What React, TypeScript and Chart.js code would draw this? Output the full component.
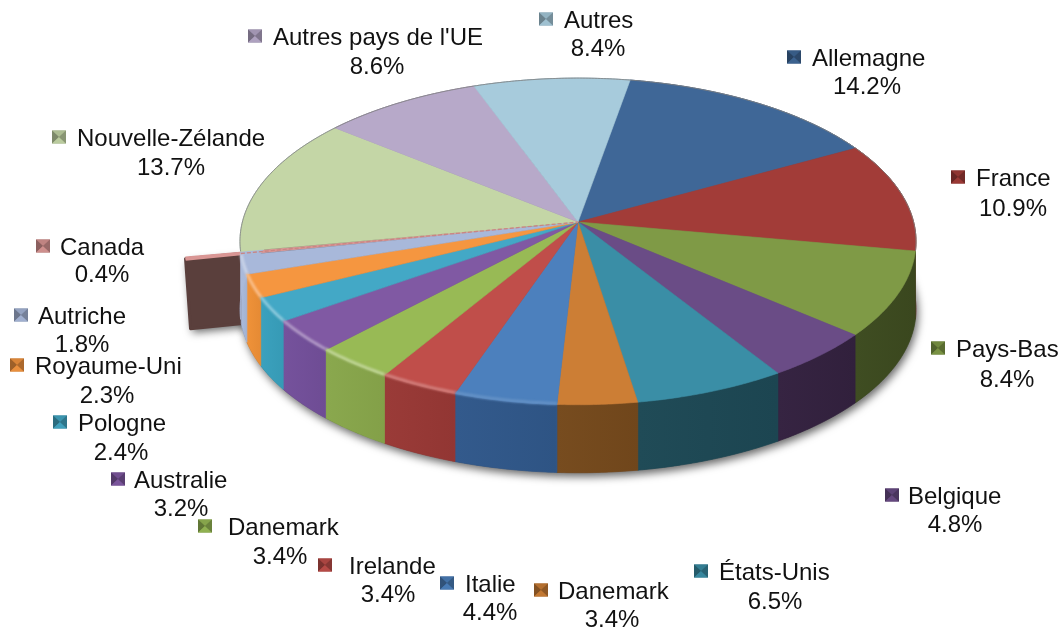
import React, { useEffect, useRef } from "react";
import { Chart, registerables } from "chart.js";

Chart.register(...registerables);

const categories = ["Allemagne","France","Pays-Bas","Belgique","États-Unis","Danemark","Italie","Irelande","Danemark","Australie","Pologne","Royaume-Uni","Autriche","Canada","Nouvelle-Zélande","Autres pays de l'UE","Autres"];
const shares = [14.2,10.9,8.4,4.8,6.5,3.4,4.4,3.4,3.4,3.2,2.4,2.3,1.8,0.4,13.7,8.6,8.4];
const topColors = ["#3f6797","#a23c38","#7f9a46","#6a4c86","#3a8ea6","#cc7e35","#4c80bd","#c04e4a","#98ba55","#8059a3","#43a8c6","#f59640","#a8b8da","#d99694","#c4d6a6","#b7a9c9","#a7cbdc"];
const wallColors = ["#27405e","#5c2220","#3c4a1f","#33213f","#1d4854","#75491c","#30578a","#983835","#88a74b","#734f9a","#38a0bd","#ef9036","#a9b9da","#5a3f3c","#a9b9da","#6e6080","#6a8a9a"];

// label layout: [marker left, marker centre y, name left, value centre x, value centre y]
const labelLayout = [
  [787,57,812,867,85],[951,177,976,1013,207],[931,348,956,1007,378],[885,495,908,955,523],
  [694,571,719,775,600],[534,590,558,612,618],[440,583,465,490,611],[318,565,349,388,593],
  [198,526,228,280,555],[111,479,134,181,507],[53,422,78,121,451],[10,365,35,107,394],
  [14,315,38,82,343],[36,246,60,102,273],[52,137,77,171,166],[248,36,273,377,65],[539,19,564,598,47],
];

const EXPLODED = 13;
const EXPLODE = 0.16;
const BX = 335.6, AY = 161, K = 0.119, DEPTH = 68;
const FONT = '24px "Liberation Sans", Arial, sans-serif';

function mix(hex: string, target: number, t: number) {
  const n = parseInt(hex.slice(1), 16);
  const c = [(n >> 16) & 255, (n >> 8) & 255, n & 255].map((v) => Math.round(v + (target - v) * t));
  return `rgb(${c[0]},${c[1]},${c[2]})`;
}

const threeD = {
  id: "threeD",
  beforeDatasetsDraw(chart: any) {
    const ctx = chart.ctx as CanvasRenderingContext2D;
    const arcs = chart.getDatasetMeta(0).data as any[];
    const cx = arcs[0].x, cy = arcs[0].y;
    const P = (u: number, v: number, d = 0, e = 0, m = 0): [number, number] => {
      const uu = u + e * Math.cos(m), vv = v + e * Math.sin(m);
      const w = 1 - K * vv;
      return [cx + (BX * uu) / w, cy + (AY * vv) / w + d];
    };
    const rim = (a0: number, a1: number, d = 0, e = 0, m = 0) => {
      const pts: [number, number][] = [];
      const n = Math.max(2, Math.ceil((a1 - a0) / 0.01));
      for (let i = 0; i <= n; i++) {
        const a = a0 + ((a1 - a0) * i) / n;
        pts.push(P(Math.cos(a), Math.sin(a), d, e, m));
      }
      return pts;
    };
    const poly = (pts: [number, number][]) => {
      ctx.beginPath();
      pts.forEach((p, i) => (i ? ctx.lineTo(p[0], p[1]) : ctx.moveTo(p[0], p[1])));
      ctx.closePath();
    };

    ctx.save();
    // drop shadow under the whole solid
    ctx.save();
    ctx.shadowColor = "rgba(0,0,0,0.6)";
    ctx.shadowBlur = 9;
    ctx.shadowOffsetX = 2;
    ctx.shadowOffsetY = 4;
    ctx.fillStyle = "#555";
    poly(rim(0, Math.PI * 2, DEPTH));
    ctx.fill();
    const ex = arcs[EXPLODED];
    const em = (ex.startAngle + ex.endAngle) / 2;
    const eOuter = P(Math.cos(em), Math.sin(em), 0, EXPLODE, em);
    const eInner = P(0, 0, 0, EXPLODE, em);
    const wallExploded: [number, number][] = [eOuter, eInner, [eInner[0], eInner[1] + DEPTH], [eOuter[0] + 5, eOuter[1] + DEPTH + 2]];
    poly(wallExploded);
    ctx.fill();
    ctx.restore();

    // exploded slice
    ctx.lineJoin = "round";
    ctx.fillStyle = wallColors[EXPLODED];
    ctx.strokeStyle = wallColors[EXPLODED];
    ctx.lineWidth = 3;
    poly(wallExploded);
    ctx.fill();
    ctx.stroke();
    ctx.fillStyle = topColors[EXPLODED];
    poly([P(0, 0, 0, EXPLODE, em), ...rim(ex.startAngle, ex.endAngle, 0, EXPLODE, em)]);
    ctx.fill();
    ctx.strokeStyle = topColors[EXPLODED];
    ctx.lineWidth = 2;
    ctx.beginPath();
    ctx.moveTo(eOuter[0], eOuter[1]);
    ctx.lineTo(eInner[0], eInner[1]);
    ctx.stroke();

    // walls
    arcs.forEach((arc, i) => {
      if (i === EXPLODED) return;
      const top = rim(arc.startAngle, arc.endAngle);
      const bottom = rim(arc.startAngle, arc.endAngle, DEPTH).reverse();
      const xs = top.map((p) => p[0]);
      const g = ctx.createLinearGradient(Math.min(...xs), 0, Math.max(...xs) + 0.5, 0);
      g.addColorStop(0, mix(wallColors[i], 255, 0.015));
      g.addColorStop(1, mix(wallColors[i], 0, 0.04));
      ctx.fillStyle = g;
      ctx.strokeStyle = wallColors[i];
      ctx.lineWidth = 0.7;
      poly([...top, ...bottom]);
      ctx.fill();
      ctx.stroke();
    });

    // top faces
    arcs.forEach((arc, i) => {
      if (i === EXPLODED) return;
      ctx.fillStyle = topColors[i];
      ctx.strokeStyle = topColors[i];
      ctx.lineWidth = 0.6;
      poly([P(0, 0), ...rim(arc.startAngle, arc.endAngle)]);
      ctx.fill();
      ctx.stroke();
    });

    // soft bevel on the front rim (stronger on the left), hairline on the back
    arcs.forEach((arc, i) => {
      if (i === EXPLODED) return;
      const mid = (arc.startAngle + arc.endAngle) / 2;
      const front = Math.sin(mid) > 0.02;
      const pts = rim(arc.startAngle, arc.endAngle, front ? -1 : 0);
      ctx.beginPath();
      pts.forEach((p, j) => (j ? ctx.lineTo(p[0], p[1]) : ctx.moveTo(p[0], p[1])));
      if (front) {
        const leftness = Math.max(0, Math.min(1, -Math.cos(mid) * 1.6 + 0.05));
        ctx.save();
        ctx.filter = "blur(1.2px)";
        ctx.strokeStyle = mix(topColors[i], 255, 0.38 * leftness);
        ctx.lineWidth = 3;
        ctx.lineCap = "butt";
        if (leftness > 0.02) ctx.stroke();
        ctx.restore();
      } else {
        ctx.strokeStyle = "rgba(130,130,130,0.8)";
        ctx.lineWidth = 1;
        ctx.stroke();
      }
    });

    // Canada's place on the main face
    ctx.strokeStyle = "#c98583";
    ctx.lineWidth = 1.3;
    ctx.setLineDash([4, 2]);
    ctx.beginPath();
    const a = Math.cos(em), b = Math.sin(em);
    ctx.moveTo(...P(a, b));
    ctx.lineTo(...P(0, 0));
    ctx.stroke();
    ctx.setLineDash([]);

    // labels and keys
    ctx.font = FONT;
    ctx.textBaseline = "middle";
    arcs.forEach((arc, i) => {
      const [mx, my, nx, vx, vy] = labelLayout[i];
      const w = 14, h = 13, x = mx, y = my - h / 2;
      const c = topColors[i];
      ctx.save();
      ctx.filter = "blur(0.7px)";
      const tri = (pts: [number, number][], col: string) => { ctx.fillStyle = col; poly(pts); ctx.fill(); };
      const m: [number, number] = [x + w / 2, y + h / 2];
      ctx.fillStyle = mix(c, 0, 0.2);
      ctx.fillRect(x, y, w, h);
      tri([[x, y], [x + w, y], m], mix(c, 0, 0.12));
      tri([[x, y], [x, y + h], m], mix(c, 0, 0.36));
      tri([[x + w, y + h], [x, y + h], m], mix(c, 0, 0.05));
      tri([[x + w, y], [x + w, y + h], m], mix(c, 0, 0.3));
      ctx.restore();
      ctx.save();
      ctx.filter = "blur(0.3px)";
      ctx.fillStyle = "#111";
      ctx.textAlign = "left";
      ctx.fillText(categories[i], nx, my + 2.5);
      ctx.textAlign = "center";
      ctx.fillText(shares[i].toFixed(1) + "%", vx, vy + 2);
      ctx.restore();
    });
    ctx.restore();
    return false;
  },
};

export default function App() {
  const ref = useRef<HTMLCanvasElement>(null);
  useEffect(() => {
    const chart = new Chart(ref.current!, {
      type: "pie",
      data: { labels: categories, datasets: [{ data: shares, backgroundColor: topColors }] },
      options: {
        animation: false,
        responsive: false,
        rotation: 10,
        layout: { padding: { left: 95, right: 0, top: 0, bottom: 186 } },
        plugins: { legend: { display: false }, tooltip: { enabled: false } },
      },
      plugins: [threeD],
    } as any);
    return () => chart.destroy();
  }, []);
  return (
    <div style={{ position: "fixed", left: 0, top: 0, width: 1061, height: 630, background: "#fff" }}>
      <canvas ref={ref} width={1061} height={630} style={{ display: "block" }} />
    </div>
  );
}
